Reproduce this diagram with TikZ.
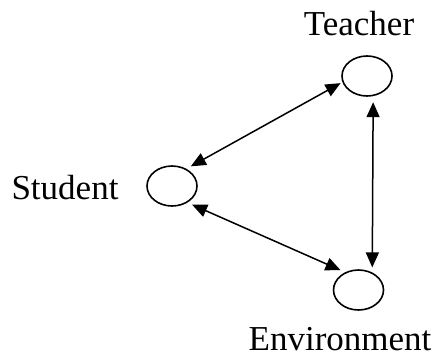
\documentclass[tikz,border=0pt]{standalone}
\usepackage{fontspec}
\setmainfont{Liberation Serif}
\usetikzlibrary{shapes.geometric,arrows.meta}
\begin{document}
\begin{tikzpicture}[x=1pt,y=-1pt,
  circ/.style={draw,ellipse,line width=1.6pt,minimum width=50pt,minimum height=40pt,inner sep=0pt},
  lbl/.style={anchor=base,inner sep=0pt,font=\fontsize{35pt}{40pt}\selectfont},
  link/.style={line width=1.5pt,{Triangle[length=15pt,width=13pt]}-{Triangle[length=15pt,width=13pt]}}]
\useasboundingbox (0,0) rectangle (435,353);
\node[circ] (t) at (367,76) {};
\node[circ] (s) at (172,186) {};
\node[circ] (e) at (358.5,290) {};
\node[lbl] (tl) at (359,36) {Teacher};
\node[lbl] (sl) at (65,199) {Student};
\node[lbl] (el) at (340,350) {Environment};
\draw[link,shorten <=5pt,shorten >=2pt] (s.50.7) -- (t.194.5);
\draw[link,shorten <=5pt,shorten >=5pt] (s.-47.9) -- (e.127.7);
\draw[link,shorten <=6pt,shorten >=5pt] (t.-73.3) -- (e.52.8);
\end{tikzpicture}
\end{document}
